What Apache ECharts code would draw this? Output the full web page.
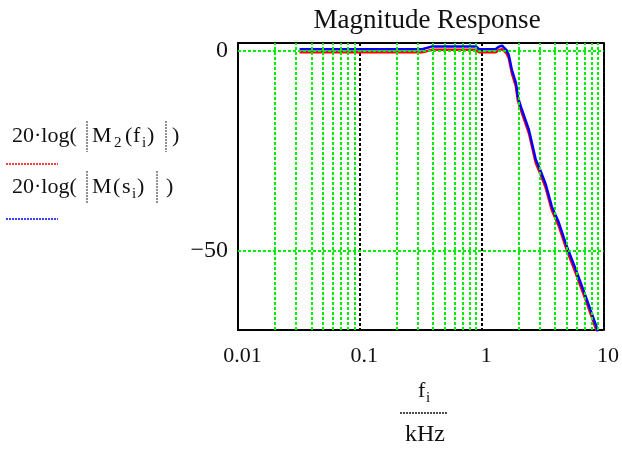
<!DOCTYPE html>
<html>
<head>
<meta charset="utf-8">
<script src="https://cdn.jsdelivr.net/npm/echarts@6/dist/echarts.min.js"></script>
<style>
  html, body { margin: 0; padding: 0; background: #fff; }
  #chart { width: 622px; height: 449px; }
</style>
</head>
<body>
<div id="chart"></div>
<script>
// frequency in kHz and magnitude in dB
const freqBlue = [0.032, 0.325, 0.393, 0.899, 0.951, 1.30, 1.39, 1.47, 1.52, 1.60, 1.67, 1.77, 1.91, 1.98, 2.14, 2.44, 2.78, 3.06, 3.36, 3.76, 4.29, 4.99, 5.91, 7.13, 8.77, 8.95];
const dbBlue = [0.45, 0.45, 1.15, 1.15, 0.45, 0.45, 1.1, 1.35, 1.1, 0.2, -1.0, -4.75, -8, -11.5, -14.75, -19.75, -27.25, -30.25, -33.5, -39, -43, -49, -54.75, -61.5, -69.25, -70.5];
const freqRed = [0.032, 0.325, 0.393, 0.899, 0.951, 1.30, 1.39, 1.47, 1.52, 1.60, 1.67, 1.77, 1.91, 1.98, 2.14, 2.44, 2.78, 3.06, 3.36, 3.76, 4.29, 4.99, 5.91, 7.13, 8.77, 8.95];
const dbRed = [-0.35, -0.35, 0.3, 0.3, -0.35, -0.35, 0.25, 0.45, 0.25, -0.6, -1.8, -5.6, -8.9, -12.4, -15.6, -20.6, -28.1, -31.1, -34.4, -39.9, -43.9, -49.9, -55.7, -62.4, -70.2, -70.9];

// grid lines
const minorFreqs = [0.02, 0.03, 0.04, 0.05, 0.06, 0.07, 0.08, 0.09,
  0.2, 0.3, 0.4, 0.5, 0.6, 0.7, 0.8, 0.9,
  2, 3, 4, 5, 6, 7, 8, 9];
const dbLines = [0, -50];
const yTickValues = [0, -50];

const serif = "'Liberation Serif', 'DejaVu Serif', serif";
const green = "#00ee00";
const ink = "#111";

const chart = echarts.init(document.getElementById("chart"));

const pair = (xs, ys) => xs.map((x, i) => [x, ys[i]]);

// mathcad style expression: pieces of [x, text, isSub], bars at given x
function mathExpr(cy, pieces, bars, barTop, barBottom) {
  const els = pieces.map(([x, str, sub]) => ({
    type: "text",
    x: x,
    y: sub ? cy + 7 : cy,
    style: {
      text: str,
      fontFamily: "Liberation Serif",
      fontSize: sub ? 15 : 22,
      fill: ink,
      align: "left",
      verticalAlign: "middle"
    }
  }));
  bars.forEach(x => {
    els.push({
      type: "line",
      shape: { x1: x, y1: barTop, x2: x, y2: barBottom },
      style: { stroke: "#222", lineWidth: 1, lineDash: [2, 1] }
    });
  });
  return els;
}

const graphics = [].concat(
  mathExpr(136, [[12, "20·log("], [92, "M"], [114, "2", true], [125, "("], [133, "f"], [142, "i", true], [147, ")"], [172, ")"]],
    [87, 166], 121, 152),
  mathExpr(187, [[12, "20·log("], [92, "M"], [113, "("], [122, "s"], [132, "i", true], [137, ")"], [166, ")"]],
    [87, 157], 171, 204),
  [
    {
      type: "line",
      shape: { x1: 6, y1: 164, x2: 58, y2: 164 },
      style: { stroke: "#ff0000", lineWidth: 1.5, lineDash: [2, 1] }
    },
    {
      type: "line",
      shape: { x1: 6, y1: 219, x2: 58, y2: 219 },
      style: { stroke: "#0000ff", lineWidth: 1.5, lineDash: [2, 1] }
    }
  ],
  mathExpr(391, [[418, "f"], [426, "i", true]], [], 0, 0),
  [
    {
      type: "line",
      shape: { x1: 400, y1: 413, x2: 448, y2: 413 },
      style: { stroke: ink, lineWidth: 1.5, lineDash: [2, 1] }
    },
    {
      type: "text",
      x: 425,
      y: 435,
      style: {
        text: "kHz",
        align: "center",
        verticalAlign: "middle",
        fontFamily: "Liberation Serif",
        fontSize: 24,
        fill: ink
      }
    }
  ]
);

const option = {
  animation: false,
  title: {
    text: "Magnitude Response",
    left: 422,
    top: 2,
    textAlign: "center",
    textStyle: { fontFamily: serif, fontSize: 27, fontWeight: "normal", color: ink }
  },
  grid: { left: 238, top: 43, right: 17, bottom: 119 },
  xAxis: [
    {
      type: "log",
      logBase: 10,
      min: 0.01,
      max: 10,
      axisLine: { onZero: false, lineStyle: { color: "#000", width: 2, type: [2, 1] } },
      axisTick: { show: false },
      axisLabel: {
        fontFamily: serif,
        fontSize: 22,
        color: ink,
        margin: 15,
        padding: [0, 0, 0, 9],
        showMinLabel: true,
        showMaxLabel: true
      },
      splitLine: { show: true, lineStyle: { color: "#000", width: 2, type: [3, 2] } }
    },
    {
      type: "log",
      logBase: 10,
      min: 0.01,
      max: 10,
      position: "top",
      axisLine: { onZero: false, lineStyle: { color: "#000", width: 2, type: [2, 1] } },
      axisTick: { show: false },
      axisLabel: { show: false },
      splitLine: { show: false }
    }
  ],
  yAxis: [
    {
      type: "value",
      min: -70,
      max: 2,
      axisLine: { show: true, onZero: false, lineStyle: { color: "#000", width: 2 } },
      axisTick: { show: false },
      splitLine: { show: false },
      axisLabel: {
        customValues: yTickValues,
        fontFamily: serif,
        fontSize: 24,
        color: ink,
        margin: 10,
        formatter: v => (v < 0 ? "\u2212" + (-v) : String(v))
      }
    },
    {
      type: "value",
      min: -70,
      max: 2,
      position: "right",
      axisLine: { show: true, onZero: false, lineStyle: { color: "#000", width: 2, type: [2, 1] } },
      axisTick: { show: false },
      axisLabel: { show: false },
      splitLine: { show: false }
    }
  ],
  series: [
    {
      name: "grid",
      type: "line",
      data: [],
      z: 1,
      silent: true,
      markLine: {
        silent: true,
        symbol: "none",
        label: { show: false },
        emphasis: { disabled: true },
        lineStyle: { color: green, width: 2, type: [3, 2] },
        data: minorFreqs.map(f => ({ xAxis: f })).concat(dbLines.map(d => ({ yAxis: d })))
      }
    },
    {
      name: "M2",
      type: "line",
      z: 3,
      data: pair(freqRed, dbRed),
      showSymbol: false,
      clip: true,
      lineStyle: { color: "#ff0000", width: 2.5 }
    },
    {
      name: "M",
      type: "line",
      z: 4,
      data: pair(freqBlue, dbBlue),
      showSymbol: false,
      clip: true,
      lineStyle: { color: "#0000ff", width: 2.5 }
    }
  ],
  graphic: graphics
};

chart.setOption(option);
</script>
</body>
</html>
